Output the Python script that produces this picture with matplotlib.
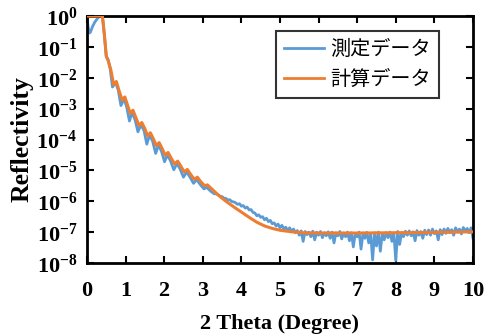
import numpy as np
import matplotlib
matplotlib.use("Agg")
import matplotlib.pyplot as plt
from matplotlib.ticker import FixedLocator, NullLocator

# ---------------- data (log10 of reflectivity) ----------------
meas_x_head = [0.00, 0.03, 0.06, 0.09, 0.14, 0.20, 0.27, 0.33, 0.40, 0.45, 0.50, 0.55,
               0.60, 0.66, 0.74, 0.81, 0.88, 0.96, 1.03, 1.10, 1.17, 1.25, 1.32, 1.40,
               1.48, 1.55, 1.62, 1.70, 1.78, 1.85, 1.93, 2.01, 2.08, 2.16, 2.25, 2.33,
               2.41, 2.50, 2.58, 2.66, 2.76, 2.84, 2.93, 3.03, 3.10, 3.20, 3.30]
meas_log_head = [-0.05, -0.35, -0.55, -0.52, -0.35, -0.20, -0.08, 0.0, 0.0, -0.60, -1.30, -1.42,
                 -1.70, -2.30, -2.15, -2.40, -2.90, -2.68, -2.95, -3.40, -3.12, -3.38, -3.75, -3.52,
                 -3.72, -4.15, -3.86, -4.05, -4.45, -4.18, -4.38, -4.72, -4.50, -4.68, -4.98, -4.78,
                 -4.95, -5.22, -5.05, -5.20, -5.42, -5.30, -5.45, -5.60, -5.55, -5.67, -5.76]

# measured tail sampled every 0.05 from 3.35 to 10.0
meas_tail_start = 3.35
meas_tail_step = 0.05
meas_log_tail = [
    -5.76, -5.79, -5.84, -5.85, -5.90, -5.91, -5.96, -5.95, -6.01, -6.02,
    -6.05, -6.10, -6.08, -6.16, -6.14, -6.22, -6.19, -6.28, -6.27, -6.36,
    -6.38, -6.47, -6.44, -6.52, -6.50, -6.60, -6.55, -6.66, -6.62, -6.73,
    -6.70, -6.80, -6.74, -6.86, -6.78, -6.90, -6.84, -6.95, -6.86, -6.98,
    -6.90, -7.02, -6.95, -7.10, -6.96, -7.30, -6.98, -7.08, -7.00, -7.15,
    -6.97, -7.25, -7.00, -7.10, -6.98, -7.18, -7.02, -7.12, -6.99, -7.20,
    -7.00, -7.35, -7.02, -7.12, -6.98, -7.22, -7.03, -7.15, -7.00, -7.28,
    -7.02, -7.48, -7.04, -7.15, -7.00, -7.55, -7.03, -7.20, -7.01, -7.35,
    -7.05, -7.90, -7.02, -7.45, -7.00, -7.62, -7.05, -7.25, -7.02, -7.18,
    -7.00, -7.30, -7.03, -7.92, -6.98, -7.40, -7.02, -7.15, -6.97, -7.10,
    -6.96, -7.12, -6.99, -7.28, -6.95, -7.10, -6.98, -7.20, -6.94, -7.08,
    -6.93, -7.10, -6.90, -7.05, -6.96, -7.25, -6.92, -7.08, -6.90, -7.04,
    -6.88, -7.02, -6.92, -7.10, -6.86, -7.00, -6.90, -7.06, -6.85, -6.98,
    -6.88, -7.02, -6.86, -7.20]

calc_x = [0.00, 0.40, 0.45, 0.50, 0.55, 0.62, 0.69, 0.76, 0.84, 0.91, 0.98, 1.05,
          1.12, 1.19, 1.27, 1.35, 1.42, 1.50, 1.57, 1.64, 1.72, 1.80, 1.87, 1.95,
          2.03, 2.10, 2.18, 2.27, 2.35, 2.43, 2.52, 2.60, 2.68, 2.78, 2.86, 2.95,
          3.05, 3.12, 3.25, 3.40, 3.60, 3.80, 4.00, 4.20, 4.40, 4.60, 4.80, 5.00,
          5.30, 5.60, 6.00, 7.00, 8.00, 9.00, 10.00]
calc_log = [0.0, 0.0, -0.60, -1.30, -1.45, -1.75, -2.22, -2.12, -2.45, -2.72, -2.62, -2.88,
            -3.15, -3.05, -3.30, -3.55, -3.45, -3.65, -3.88, -3.78, -3.98, -4.20, -4.10, -4.30,
            -4.51, -4.42, -4.60, -4.79, -4.70, -4.86, -5.05, -4.97, -5.12, -5.29, -5.22, -5.37,
            -5.50, -5.47, -5.62, -5.80, -6.00, -6.18, -6.35, -6.52, -6.68, -6.80, -6.88, -6.94,
            -6.99, -7.02, -7.03, -7.03, -7.02, -7.01, -6.99]

x_ticks = [0, 1, 2, 3, 4, 5, 6, 7, 8, 9, 10]
y_exponents = [0, -1, -2, -3, -4, -5, -6, -7, -8]
legend_labels = ["測定データ", "計算データ"]

# ---------------- build series ----------------
meas_x_tail = meas_tail_start + meas_tail_step * np.arange(len(meas_log_tail))
meas_x = np.concatenate([np.array(meas_x_head), meas_x_tail])
meas_y = 10.0 ** np.concatenate([np.array(meas_log_head), np.array(meas_log_tail)])
calc_y = 10.0 ** np.array(calc_log)

# ---------------- style ----------------
plt.rcParams["mathtext.fontset"] = "custom"
plt.rcParams["mathtext.rm"] = "Liberation Serif:bold"
plt.rcParams["mathtext.bf"] = "Liberation Serif:bold"
plt.rcParams["mathtext.it"] = "Liberation Serif:bold"

serif_bold = dict(family="Liberation Serif", weight="bold")
fig = plt.figure(figsize=(4.87, 3.35), dpi=100)
ax = fig.add_axes([0.1786, 0.215, 0.7926, 0.737])

blue = "#5B9BD5"
orange = "#ED7D31"
ax.plot(meas_x, meas_y, color=blue, lw=2.0, label=legend_labels[0], zorder=2)
ax.plot(calc_x, calc_y, color=orange, lw=2.2, label=legend_labels[1], zorder=3)

ax.set_yscale("log")
ax.set_xlim(0, 10)
ax.set_ylim(1e-8, 1e0)

ax.xaxis.set_major_locator(FixedLocator(x_ticks))
ax.set_xticklabels([str(t) for t in x_ticks], fontsize=16, **serif_bold)
ax.yaxis.set_major_locator(FixedLocator([10.0 ** e for e in y_exponents]))
ax.yaxis.set_minor_locator(NullLocator())
ax.set_yticklabels([r"$\mathbf{10^{%d}}$" % e for e in y_exponents], fontsize=16)

ax.tick_params(direction="in", length=5, width=1.5, top=True, right=True)
ax.tick_params(axis="y", pad=7)
ax.tick_params(axis="x", pad=13)
for s in ax.spines.values():
    s.set_linewidth(2.0)
    s.set_color("black")

ax.set_ylabel("Reflectivity", fontsize=18.5, labelpad=2, **serif_bold)
ax.set_xlabel("2 Theta (Degree)", fontsize=16, labelpad=9.5, **serif_bold)

leg = ax.legend(loc="upper left", bbox_to_anchor=(0.49, 0.94), frameon=True, fancybox=False,
                edgecolor="black", handlelength=2.0, handletextpad=0.3, borderpad=0.4,
                labelspacing=0.45, borderaxespad=0,
                prop=dict(family=["Noto Sans CJK JP", "DejaVu Sans"], size=14.5))
leg.get_frame().set_linewidth(1.5)
for line in leg.get_lines():
    line.set_linewidth(2.0)

fig.savefig("out.png", dpi=100)
